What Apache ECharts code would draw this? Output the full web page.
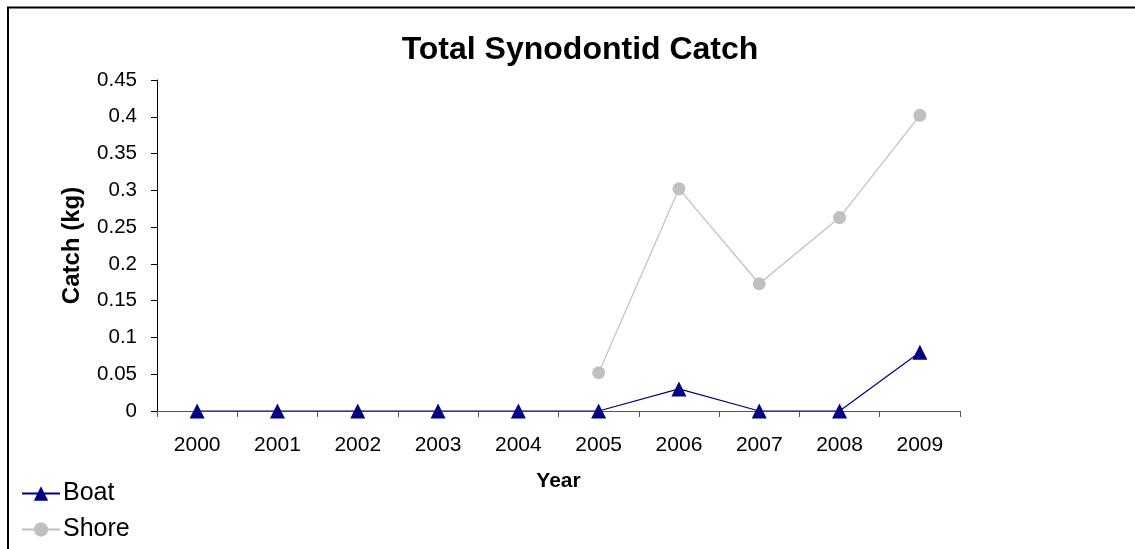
<!DOCTYPE html>
<html><head><meta charset="utf-8">
<script src="https://cdn.jsdelivr.net/npm/echarts@6/dist/echarts.min.js"></script>
<style>html,body{margin:0;padding:0;background:#fff}#c{width:1135px;height:549px}</style>
</head><body><div id="c"></div>
<script>
const years = ['2000','2001','2002','2003','2004','2005','2006','2007','2008','2009'];
const boat = [0,0,0,0,0,0,0.03,0,0,0.08];
const shore = [null,null,null,null,null,0.052,0.302,0.173,0.263,0.402];
const F = '"Liberation Sans", Arial, sans-serif';
const chart = echarts.init(document.getElementById('c'));
chart.setOption({
  animation:false,
  backgroundColor:'#fff',
  graphic:[{type:'polyline',shape:{points:[[8,549],[8,7.5],[1135,7.5]]},style:{stroke:'#000',lineWidth:2,fill:null},z:-1}],
  title:{text:'Total Synodontid Catch',left:575,top:29,textAlign:'center',textStyle:{fontFamily:F,fontSize:32,fontWeight:'bold',color:'#000'}},
  legend:{orient:'vertical',left:16,top:476,itemGap:11,itemWidth:38,itemHeight:18,textStyle:{fontFamily:F,fontSize:25,color:'#000',padding:[0,0,0,-2]},data:['Boat','Shore']},
  grid:{left:157,right:175,top:80,bottom:138,containLabel:false},
  xAxis:{type:'category',data:years,boundaryGap:true,
    name:'Year',nameLocation:'middle',nameGap:60,nameTextStyle:{fontFamily:F,fontSize:21,fontWeight:'bold',color:'#000'},
    axisLine:{lineStyle:{color:'#555',width:1}},axisTick:{show:true,inside:false,length:6,lineStyle:{color:'#555'}},
    axisLabel:{fontFamily:F,fontSize:21,color:'#000',margin:24},splitLine:{show:false}},
  yAxis:{type:'value',min:0,max:0.45,interval:0.05,
    name:'Catch (kg)',nameLocation:'middle',nameGap:73,nameRotate:90,nameTextStyle:{fontFamily:F,fontSize:24,fontWeight:'bold',color:'#000'},
    axisLine:{show:true,lineStyle:{color:'#000',width:1}},axisTick:{show:true,inside:false,length:6,lineStyle:{color:'#000'}},
    axisLabel:{fontFamily:F,fontSize:20.5,color:'#000',margin:20,formatter:v=>String(+v.toFixed(2))},splitLine:{show:false}},
  series:[
    {name:'Boat',type:'line',data:boat,symbol:'triangle',symbolSize:15,itemStyle:{color:'#000080'},lineStyle:{color:'#000080',width:1.2},z:3},
    {name:'Shore',type:'line',data:shore,symbol:'circle',symbolSize:13,itemStyle:{color:'#C0C0C0'},lineStyle:{color:'#C0C0C0',width:1.2},connectNulls:false,z:2}
  ]
});
</script></body></html>
